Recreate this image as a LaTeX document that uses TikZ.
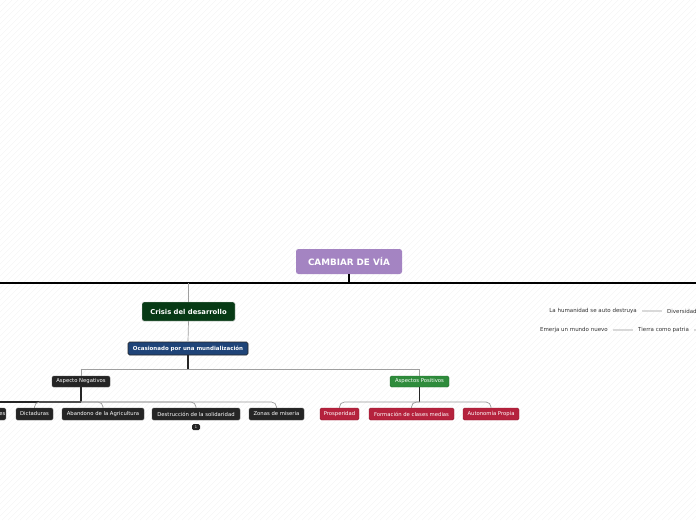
\documentclass[tikz,border=0pt]{standalone}
\usepackage{fontspec}
\setmainfont{DejaVu Sans}
\definecolor{rootpurple}{HTML}{A484C2}
\definecolor{crisisgreen}{HTML}{073A15}
\definecolor{ocasionblue}{HTML}{1F4478}
\definecolor{negdark}{HTML}{252525}
\definecolor{posgreen}{HTML}{2E8B3B}
\definecolor{poschild}{HTML}{B5223D}
\definecolor{plaingrey}{HTML}{333333}
\begin{document}
\begin{tikzpicture}
[x=1pt,y=-1pt,
 boxdecorate/.style={shape=rectangle,rounded corners=1.5pt,inner sep=0pt,text=white},%
 rootdecorate/.style={boxdecorate,fill=rootpurple,rounded corners=2.5pt,
   minimum width=106pt,minimum height=25pt,font=\fontsize{8.8}{10}\selectfont\bfseries},%
 crisisdecorate/.style={boxdecorate,fill=crisisgreen,draw=gray!35,
   minimum width=93pt,minimum height=19pt,font=\fontsize{6.8}{8}\selectfont\bfseries},%
 ocasiondecorate/.style={boxdecorate,fill=ocasionblue,draw=black!85,line width=.6pt,
   minimum width=120pt,minimum height=13pt,font=\fontsize{5.5}{6}\selectfont\bfseries},%
 leveldecorate/.style={boxdecorate,minimum height=11pt,font=\fontsize{5.3}{6}\selectfont},%
 childdecorate/.style={boxdecorate,minimum height=12pt,font=\fontsize{5.3}{6}\selectfont},%
 badgedecorate/.style={boxdecorate,fill=negdark,minimum width=8pt,minimum height=6pt,
   font=\fontsize{3.5}{4}\selectfont},%
 plaindecorate/.style={inner xsep=5pt,inner ysep=1pt,text=plaingrey,font=\fontsize{5.5}{6}\selectfont},%
 busline/.style={-,line width=1.6pt,black},%
 darkline/.style={-,line width=1.1pt,black!85},%
 greyline/.style={-,line width=.7pt,gray!75},%
 childline/.style={-,line width=.7pt,gray!80,rounded corners=5pt},%
 softline/.style={-,line width=1.8pt,gray!30},%
 stripe/.style={-,line width=.35pt,black!5}]
\clip (0,0) rectangle (696,520);
%% background stripes
\foreach \s in {0,6,...,1230}
  \draw[stripe] (\s,0) -- ++(-520,520);
%% nodes or vertices
\node (root) at (349,261.5) [rootdecorate] {CAMBIAR DE VÍA};
\node (crisis) at (188.5,311.5) [crisisdecorate] {Crisis del desarrollo};
\node (ocasion) at (188,348.5) [ocasiondecorate] {Ocasionado por una mundialización};
\node (neg) at (81,381.5) [leveldecorate,fill=negdark,draw=black!70,minimum width=58pt] {Aspecto Negativos};
\node (pos) at (419.5,381.5) [leveldecorate,fill=posgreen,draw=posgreen!80!black,minimum width=59pt] {Aspectos Positivos};
\node (cut) at (6,414) [childdecorate,anchor=east,fill=negdark,draw=black!70,minimum width=40pt] {Desigualdades};
\foreach \nodename/\x/\w/\label in {dic/34.5/37/Dictaduras,
  aba/103/82/Abandono de la Agricultura, des/196/88/Destrucción de la solidaridad,
  zon/276.5/55/Zonas de miseria}
{
  \node (\nodename) at (\x,414) [childdecorate,fill=negdark,draw=black!70,minimum width=\w pt] {\label};
}
\foreach \nodename/\x/\w/\label in {pro/339.5/39/Prosperidad,
  for/411.5/85/Formación de clases medias, aut/491/56/Autonomía Propia}
{
  \node (\nodename) at (\x,414) [childdecorate,fill=poschild,draw=poschild!80!black,minimum width=\w pt] {\label};
}
\node (badge) at (196,427) [badgedecorate] {1};
\node (hum) at (642,311) [plaindecorate,anchor=east] {La humanidad se auto destruya};
\node (div) at (662,311) [plaindecorate,anchor=west] {Diversidad};
\node (eme) at (613,330) [plaindecorate,anchor=east] {Emerja un mundo nuevo};
\node (tie) at (633,330) [plaindecorate,anchor=west] {Tierra como patria};
%% junctions
\coordinate (busL) at (0,283);
\coordinate (busR) at (696,283);
\coordinate (ocbus) at (188,369);
\coordinate (negbus) at (81,402);
\coordinate (posbus) at (419.5,402);
\coordinate (tieend) at (700,330);
%% edges or lines
\draw[busline] (busL) -- (busR);
\draw[line width=2pt] (root.south) -- (root.south |- busL);
\draw[greyline] (crisis.north |- busL) -- (crisis.north);
\draw[greyline] (crisis.south) -- (ocasion.north);
\draw[darkline] (ocasion.south) -- (ocbus);
\draw[greyline] (ocbus) -| (neg.north);
\draw[greyline] (ocbus) -| (pos.north);
\draw[darkline] (neg.south) -- (negbus);
\draw[darkline] (pos.south) -- (posbus);
\draw[darkline] (negbus) -- (busL |- negbus);
\foreach \endnode in {dic, aba, des, zon}
  \draw[childline] (negbus) -| (\endnode.north);
\foreach \endnode in {pro, for, aut}
  \draw[childline] (posbus) -| (\endnode.north);
\path
\foreach \startnode/\endnode in {hum/div, eme/tie, tie/tieend} {
  (\startnode) edge[softline] (\endnode)
};
\end{tikzpicture}
\end{document}
